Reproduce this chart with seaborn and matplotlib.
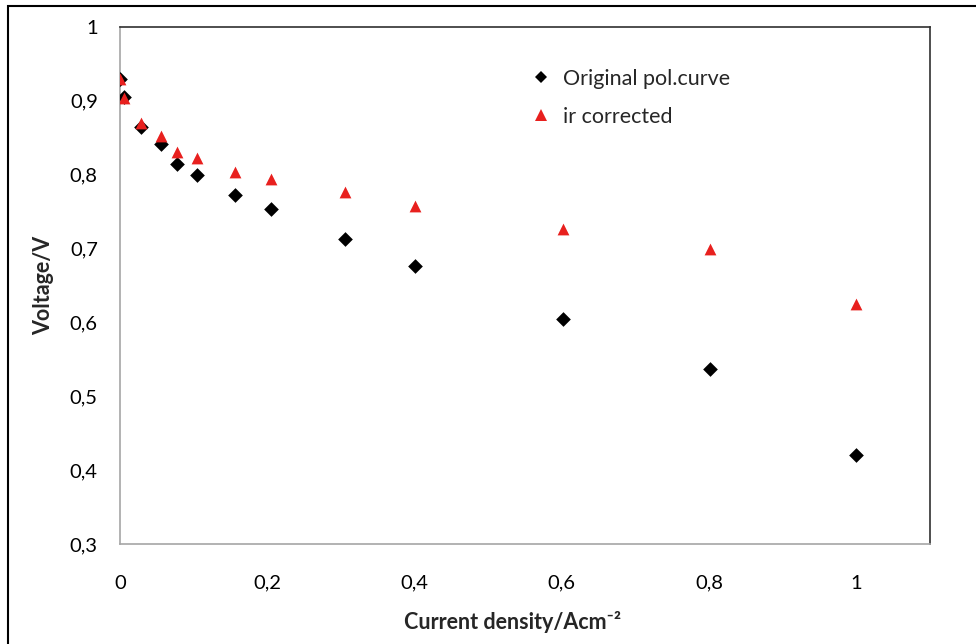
import matplotlib
matplotlib.use("Agg")
import matplotlib.pyplot as plt
import matplotlib.patches as mpatches
from matplotlib.lines import Line2D
from matplotlib.ticker import FuncFormatter
import pandas as pd
import seaborn as sns

# Polarisation curve: current density (A/cm^2) and cell voltage (V)
current_density = [0.0, 0.005, 0.028, 0.056, 0.078, 0.105, 0.156, 0.205,
                   0.305, 0.400, 0.602, 0.801, 1.000]
voltage_original = [0.930, 0.905, 0.865, 0.841, 0.815, 0.800, 0.773, 0.753,
                    0.713, 0.676, 0.604, 0.537, 0.421]
voltage_ir_corrected = [0.930, 0.904, 0.870, 0.852, 0.831, 0.822, 0.804, 0.794,
                        0.776, 0.758, 0.726, 0.700, 0.625]
series_names = ["Original pol.curve", "ir corrected"]
x_ticks = [0, 0.2, 0.4, 0.6, 0.8, 1.0]
y_ticks = [0.3, 0.4, 0.5, 0.6, 0.7, 0.8, 0.9, 1.0]

df = pd.DataFrame({
    "current": current_density * 2,
    "voltage": voltage_original + voltage_ir_corrected,
    "series": [series_names[0]] * len(current_density)
              + [series_names[1]] * len(current_density),
})

sns.set_style("white")
plt.rcParams["font.family"] = ["Lato", "DejaVu Sans"]

BLACK = "#000000"
RED = "#e8201e"

fig = plt.figure(figsize=(9.76, 6.44), dpi=100)
ax = fig.add_axes([120 / 976, 1 - 544 / 644, 810 / 976, 517 / 644])

sns.scatterplot(data=df[df.series == series_names[0]], x="current", y="voltage",
                marker="D", s=56, color=BLACK, linewidth=0, ax=ax, legend=False,
                zorder=3)
sns.scatterplot(data=df[df.series == series_names[1]], x="current", y="voltage",
                marker="^", s=72, color=RED, linewidth=0, ax=ax, legend=False,
                zorder=4)

ax.set_xlim(0, 1.1)
ax.set_ylim(0.3, 1.0)
ax.set_xticks(x_ticks)
ax.set_yticks(y_ticks)
comma = FuncFormatter(lambda v, _: f"{v:g}".replace(".", ","))
ax.xaxis.set_major_formatter(comma)
ax.yaxis.set_major_formatter(comma)
ax.tick_params(axis="x", direction="out", length=6, width=1, color="#a6a6a6",
               labelsize=14.5, pad=16, labelcolor="#000000")
ax.tick_params(axis="y", direction="out", length=5, width=1, color="#a6a6a6",
               labelsize=14.5, pad=11, labelcolor="#000000")

for side in ("left", "bottom"):
    ax.spines[side].set_color("#a6a6a6")
    ax.spines[side].set_linewidth(1.2)
for side in ("top", "right"):
    ax.spines[side].set_color("#303030")
    ax.spines[side].set_linewidth(1.2)
    ax.spines[side].set_visible(True)

ax.set_xlabel("Current density/Acm⁻²", fontsize=15.5, fontweight="bold")
ax.xaxis.set_label_coords(0.485, -0.13)
ax.set_ylabel("Voltage/V", fontsize=15.5, fontweight="bold", labelpad=11)

handles = [
    Line2D([], [], linestyle="none", marker="D", markersize=6.5,
           markerfacecolor=BLACK, markeredgewidth=0, label=series_names[0]),
    Line2D([], [], linestyle="none", marker="^", markersize=8.5,
           markerfacecolor=RED, markeredgewidth=0, label=series_names[1]),
]
ax.legend(handles=handles, loc="upper left", bbox_to_anchor=(0.499, 0.936),
          frameon=False, fontsize=15.5, handlelength=0.8, handletextpad=0.6,
          labelspacing=0.85, borderaxespad=0)

# outer chart frame
fig.patches.append(mpatches.Rectangle((8 / 976, -0.05), 1.2, 1 - 6 / 644 + 0.05,
                                      transform=fig.transFigure, fill=False,
                                      edgecolor="#000000", linewidth=1.5))

fig.savefig("out.png", dpi=100, facecolor="white")
